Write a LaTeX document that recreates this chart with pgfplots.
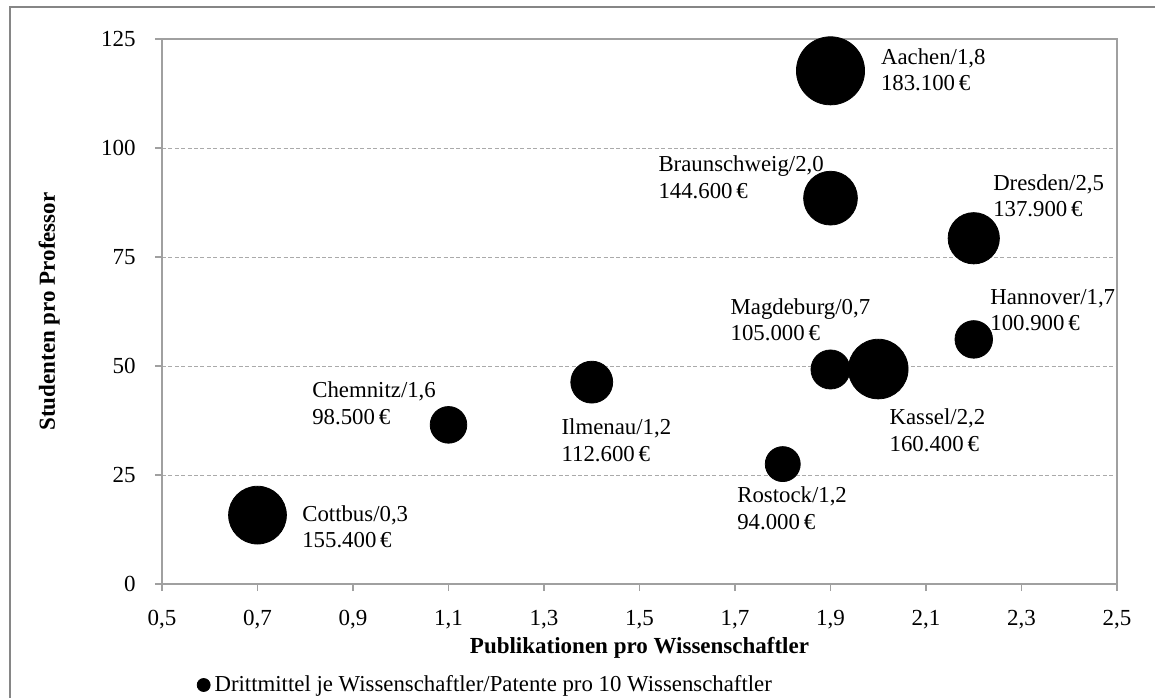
\documentclass[border=0pt]{standalone}
\usepackage{fontspec}
\setmainfont{Liberation Serif}
\usepackage{pgfplots}
\pgfplotsset{compat=1.18}
\usepackage{pgfplotstable}
\definecolor{axgray}{RGB}{160,160,160}
\definecolor{gridgray}{RGB}{170,170,170}
\definecolor{framegray}{RGB}{134,134,134}
\newcommand\fs{\fontsize{11.4}{13.2}\selectfont}
\newcommand\fst{\fontsize{11.5}{13.5}\selectfont}

\pgfplotstableread{
x y m
0.7 15.8 155.4
1.1 36.5 98.5
1.4 46.3 112.6
1.8 27.5 94.0
1.9 49.2 105.0
1.9 88.5 144.6
1.9 117.7 183.1
2.0 49.3 160.4
2.2 79.3 137.9
2.2 56.1 100.9
}\bubbles

\tikzset{lbl/.style={anchor=west, inner sep=0pt, align=left, font=\fs}}

\begin{document}
\begin{tikzpicture}
\useasboundingbox (0pt,0pt) rectangle (577.5pt,348.5pt);
\draw[framegray, line width=1pt] (5pt,-10pt) -- (5pt,345.2pt) -- (600pt,345.2pt);
\begin{axis}[
  at={(81pt,56.5pt)}, anchor=south west,
  width=477.5pt, height=272.5pt, scale only axis,
  xmin=0.5, xmax=2.5, ymin=0, ymax=125,
  xtick={0.5,0.7,0.9,1.1,1.3,1.5,1.7,1.9,2.1,2.3,2.5},
  ytick={0,25,50,75,100,125},
  axis line style={axgray, line width=0.6pt},
  tick style={axgray, line width=0.6pt},
  major tick length=3.5pt,
  tick align=outside, tick pos=left,
  ymajorgrids,
  major grid style={gridgray, dash pattern=on 2pt off 1.2pt, line width=0.5pt},
  ticklabel style={font=\fst},
  /pgf/number format/assume math mode=true,
  xticklabel style={anchor=base, inner sep=0pt, yshift=-17.4pt,
    /pgf/number format/fixed, /pgf/number format/fixed zerofill,
    /pgf/number format/precision=1, /pgf/number format/use comma},
  yticklabel style={anchor=east, inner sep=0pt, xshift=-9.5pt},
  xlabel={Publikationen pro Wissenschaftler},
  ylabel={Studenten pro Professor},
  label style={font=\fst\bfseries},
  xlabel style={at={(axis description cs:0.5,-0.1174)}, anchor=center},
  ylabel style={at={(axis description cs:-0.118,0.5)}, anchor=center},
  clip=false,
  legend style={at={(axis description cs:0.036,-0.1853)}, anchor=west,
    draw=none, fill=none, inner sep=0pt, font=\fs},
  legend cell align=left,
]
\addplot[scatter, only marks, mark=*,
  scatter/use mapped color={draw=black, fill=black},
  visualization depends on={0.093*\thisrow{m} \as \rad},
  scatter/@pre marker code/.append style={/tikz/mark size=\rad},
  legend image code/.code={\fill[black] (0pt,0pt) circle (3.25pt);}]
  table[x=x, y=y] {\bubbles};
\addlegendentry{Drittmittel je Wissenschaftler/Patente pro 10 Wissenschaftler}

\node[lbl] at (axis cs:2.005,118.0) {Aachen/1,8\\183.100\,€};
\node[lbl] at (axis cs:1.539,93.3) {Braunschweig/2,0\\144.600\,€};
\node[lbl] at (axis cs:2.240,89.0) {Dresden/2,5\\137.900\,€};
\node[lbl] at (axis cs:2.234,62.8) {Hannover/1,7\\100.900\,€};
\node[lbl] at (axis cs:1.690,60.6) {Magdeburg/0,7\\105.000\,€};
\node[lbl] at (axis cs:2.023,35.3) {Kassel/2,2\\160.400\,€};
\node[lbl] at (axis cs:1.704,17.4) {Rostock/1,2\\94.000\,€};
\node[lbl] at (axis cs:1.336,33.0) {Ilmenau/1,2\\112.600\,€};
\node[lbl] at (axis cs:0.814,41.5) {Chemnitz/1,6\\98.500\,€};
\node[lbl] at (axis cs:0.793,13.1) {Cottbus/0,3\\155.400\,€};
\end{axis}
\end{tikzpicture}
\end{document}
